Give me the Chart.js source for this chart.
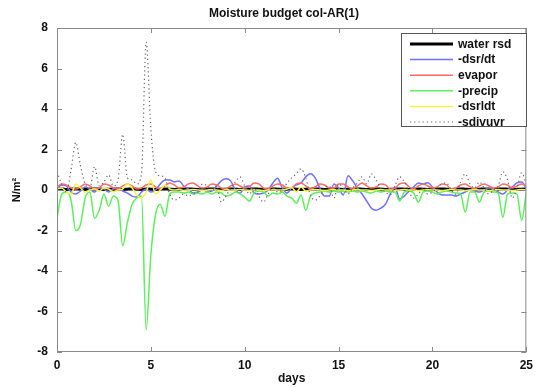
<!DOCTYPE html>
<html>
<head>
<meta charset="utf-8">
<script src="https://cdn.jsdelivr.net/npm/chart.js@4/dist/chart.umd.min.js"></script>
<style>
  body { margin: 0; background: #fff; }
  canvas { display: block; }
</style>
</head>
<body>
<canvas id="chart" width="539" height="388"></canvas>
<script>
// time axis, 6-hourly
const days = [
  0, 0.25, 0.5, 0.75, 1, 1.25, 1.5, 1.75, 2, 2.25, 2.5, 2.75, 3, 3.25, 3.5, 3.75,
  4, 4.25, 4.5, 4.75, 5, 5.25, 5.5, 5.75, 6, 6.25, 6.5, 6.75, 7, 7.25, 7.5, 7.75,
  8, 8.25, 8.5, 8.75, 9, 9.25, 9.5, 9.75, 10, 10.25, 10.5, 10.75, 11, 11.25, 11.5, 11.75,
  12, 12.25, 12.5, 12.75, 13, 13.25, 13.5, 13.75, 14, 14.25, 14.5, 14.75, 15, 15.25, 15.5, 15.75,
  16, 16.25, 16.5, 16.75, 17, 17.25, 17.5, 17.75, 18, 18.25, 18.5, 18.75, 19, 19.25, 19.5, 19.75,
  20, 20.25, 20.5, 20.75, 21, 21.25, 21.5, 21.75, 22, 22.25, 22.5, 22.75, 23, 23.25, 23.5, 23.75,
  24, 24.25, 24.5, 24.75, 25
]

const waterRsd = [
  0.04, 0.05, 0.03, 0.04, 0.05, 0.04, 0.03, 0.04, 0.05, 0.04, 0.03, 0.04, 0.04, 0.05, 0.03, 0.04,
  0.05, 0.04, 0.03, 0.05, 0.04, 0.03, 0.04, 0.05, 0.04, 0.03, 0.04, 0.04, 0.05, 0.04, 0.03, 0.04,
  0.04, 0.05, 0.04, 0.03, 0.04, 0.05, 0.04, 0.03, 0.04, 0.04, 0.05, 0.04, 0.03, 0.04, 0.05, 0.04,
  0.03, 0.04, 0.05, 0.04, 0.03, 0.04, 0.04, 0.05, 0.04, 0.03, 0.04, 0.05, 0.04, 0.03, 0.04, 0.04,
  0.05, 0.04, 0.03, 0.04, 0.05, 0.04, 0.03, 0.04, 0.04, 0.05, 0.04, 0.03, 0.04, 0.05, 0.04, 0.03,
  0.04, 0.04, 0.05, 0.04, 0.03, 0.04, 0.05, 0.04, 0.03, 0.04, 0.04, 0.05, 0.04, 0.03, 0.04, 0.05,
  0.04, 0.03, 0.04, 0.04, 0.05
]

const dsrDt = [
  0.1, 0.25, 0.2, -0.1, -0.2, -0.05, 0.15, 0.05, -0.1, 0.1, 0.05, -0.1, 0.05, 0.1, -0.05, -0.15,
  -0.3, -0.35, -0.1, 0.05, -0.1, 0.0, 0.3, 0.5, 0.5, 0.4, 0.45, 0.2, 0.05, -0.15, -0.1, 0.0,
  -0.05, -0.05, 0.2, 0.45, 0.55, 0.45, 0.0, -0.15, 0.15, 0.2, -0.15, -0.2, -0.15, 0.0, 0.35, 0.58,
  0.1, -0.15, 0.1, 0.25, 0.35, 0.65, 0.8, 0.6, 0.1, -0.3, -0.3, 0.3, 0.1, -0.25, 0.7, 0.45,
  0.1, -0.2, -0.55, -0.9, -1.0, -0.9, -0.7, -0.2, 0.15, -0.45, -0.3, -0.05, 0.15, 0.35, 0.3, 0.36,
  0.15, -0.1, -0.25, -0.25, -0.25, -0.3, -0.2, -0.1, 0.0, -0.05, -0.1, 0.0, 0.1, 0.05, -0.1, -0.2,
  0.0, 0.15, 0.35, 0.4, 0.1
]

const evapor = [
  0.15, 0.3, 0.25, 0.1, 0.05, 0.15, 0.3, 0.2, 0.05, 0.1, 0.3, 0.25, 0.1, 0.05, 0.2, 0.3,
  0.2, 0.05, 0.1, 0.25, 0.3, 0.15, 0.05, 0.2, 0.35, 0.25, 0.1, 0.15, 0.3, 0.35, 0.2, 0.1,
  0.15, 0.3, 0.25, 0.1, 0.05, 0.2, 0.3, 0.2, 0.1, 0.15, 0.35, 0.3, 0.1, 0.05, 0.2, 0.3,
  0.25, 0.1, 0.1, 0.3, 0.35, 0.2, 0.05, 0.15, 0.3, 0.25, 0.1, 0.1, 0.3, 0.3, 0.15, 0.05,
  0.2, 0.35, 0.2, 0.1, 0.15, 0.3, 0.25, 0.05, 0.1, 0.3, 0.35, 0.15, 0.05, 0.2, 0.3, 0.2,
  0.1, 0.15, 0.3, 0.25, 0.05, 0.1, 0.25, 0.3, 0.15, 0.05, 0.2, 0.3, 0.2, 0.1, 0.15, 0.3,
  0.25, 0.1, 0.2, 0.3, 0.2
]

const precip = [
  -1.4, -0.2, -0.1, -0.5, -2.0, -1.7, -0.4, -0.1, -1.4, -1.0, -0.2, -0.8, -0.3, -0.5, -2.75, -1.6,
  -0.7, -0.4, -0.3, -6.9, -3.2, -1.2, -0.7, -1.3, -0.2, -0.1, -0.1, -0.15, -0.1, -0.2, -0.15, -0.2,
  -0.1, -0.2, -0.1, -0.15, -0.3, -0.25, -0.1, -0.2, -0.35, -0.55, -0.15, -0.05, -0.1, -0.3, -0.15, -0.2,
  -0.1, -0.3, -0.4, -0.65, -0.25, -1.0, -0.3, -0.15, -0.1, -0.05, -0.1, -0.05, -0.1, -0.05, -0.1, -0.05,
  -0.1, -0.05, -0.1, -0.15, -0.05, -0.1, -0.05, -0.1, -0.1, -0.55, -0.1, -0.05, -0.15, -0.6, -0.1, -0.05,
  -0.1, -0.2, -0.1, -0.05, -0.1, -0.15, -0.2, -1.1, -0.1, -0.1, -0.6, -0.1, -0.05, -0.1, -0.15, -1.35,
  -0.2, -0.15, -0.2, -1.5, -0.1
]

const dsrldt = [
  0.05, 0.1, -0.1, -0.2, 0.3, 0.1, -0.1, 0.0, 0.05, -0.05, 0.1, 0.05, -0.1, 0.0, 0.05, 0.3,
  0.1, -0.25, -0.4, -0.1, 0.5, -0.2, 0.0, 0.25, 0.05, 0.0, 0.02, -0.02, 0.0, 0.03, 0.0, -0.02,
  0.0, 0.02, 0.0, -0.03, 0.02, 0.0, 0.0, 0.03, 0.0, -0.02, 0.02, 0.0, -0.03, 0.0, 0.02, 0.0,
  0.0, 0.05, 0.12, -0.1, 0.15, -0.05, 0.0, 0.02, 0.0, -0.02, 0.0, 0.02, 0.0, 0.0, -0.02, 0.0,
  0.02, 0.0, 0.0, -0.02, 0.0, 0.02, 0.0, 0.0, -0.02, 0.0, 0.03, 0.0, 0.0, -0.02, 0.0, 0.02,
  0.0, 0.0, -0.02, 0.0, 0.02, 0.0, 0.0, -0.03, 0.0, 0.02, 0.0, 0.0, -0.02, 0.0, 0.02, 0.0,
  0.0, -0.02, 0.0, 0.02, 0.0
]

const sdivuvr = [
  0.9, 0.3, -0.1, 1.0, 2.35, 1.2, 0.3, 0.1, 1.15, 0.2, 0.4, 0.75, 0.2, 0.5, 2.75, 0.6,
  0.5, 0.3, 0.8, 7.3, 3.0, 0.9, 0.7, 0.6, -0.2, -0.5, -0.4, -0.2, -0.3, -0.2, -0.1, 0.3,
  0.2, -0.1, 0.2, -0.6, -0.3, 0.1, 0.4, 0.65, 0.2, -0.2, 0.1, -0.3, -0.6, -0.2, 0.1, -0.1,
  0.0, 0.35, 0.6, 0.8, 1.05, 0.6, -0.25, -0.5, -0.3, 0.1, 0.2, -0.4, 0.3, 0.1, -0.2, 0.1,
  0.35, 0.65, 0.3, 0.8, 0.5, 0.1, -0.1, -0.25, 0.2, 0.65, 0.4, -0.1, -0.4, -0.2, 0.1, -0.2,
  -0.1, 0.1, 0.3, 0.35, 0.0, -0.2, 0.4, 0.8, 0.3, 0.1, 0.4, 0.1, -0.2, 0.0, 0.2, 0.9,
  0.5, -0.4, 0.1, 0.85, 0.3
]

const yTicks = [-8, -6, -4, -2, 0, 2, 4, 6, 8]
const xTicks = [0, 5, 10, 15, 20, 25]

const axisColor = '#8a8a8a'

function pts(values) {
  return values.map((v, i) => ({ x: days[i], y: v }))
}

// MATLAB style box, ticks pointing inwards, title and legend inside the axes
const matlabFrame = {
  id: 'matlabFrame',
  afterDraw(chart) {
    const { ctx, chartArea: a, scales } = chart
    ctx.save()
    ctx.strokeStyle = axisColor
    ctx.lineWidth = 1
    ctx.strokeRect(a.left + 0.5, a.top + 0.5, a.right - a.left - 1, a.bottom - a.top - 1)
    ctx.beginPath()
    yTicks.forEach(t => {
      const y = Math.round(scales.y.getPixelForValue(t)) + 0.5
      ctx.moveTo(a.left, y); ctx.lineTo(a.left + 5, y)
      ctx.moveTo(a.right, y); ctx.lineTo(a.right - 5, y)
    })
    xTicks.forEach(t => {
      const x = Math.round(scales.x.getPixelForValue(t)) + 0.5
      ctx.moveTo(x, a.bottom); ctx.lineTo(x, a.bottom - 5)
      ctx.moveTo(x, a.top); ctx.lineTo(x, a.top + 5)
    })
    ctx.stroke()

    // title
    ctx.fillStyle = '#111'
    ctx.font = 'bold 12px "Liberation Sans", Arial, sans-serif'
    ctx.textAlign = 'center'
    ctx.textBaseline = 'middle'
    ctx.fillText('Moisture budget col-AR(1)', 284, 14)

    // legend
    const bx = 401, by = 33, bw = 125, bh = 93
    ctx.fillStyle = '#fff'
    ctx.fillRect(bx, by, bw, bh)
    ctx.strokeStyle = '#555'
    ctx.strokeRect(bx + 0.5, by + 0.5, bw, bh)
    ctx.font = 'bold 12px "Liberation Sans", Arial, sans-serif'
    ctx.textAlign = 'left'
    chart.data.datasets.forEach((ds, i) => {
      const y = by + 11 + i * 15.6
      ctx.beginPath()
      ctx.strokeStyle = ds.borderColor
      ctx.lineWidth = ds.borderWidth
      ctx.setLineDash(ds.borderDash || [])
      ctx.moveTo(bx + 9, y); ctx.lineTo(bx + 52, y)
      ctx.stroke()
      ctx.setLineDash([])
      ctx.fillStyle = '#111'
      ctx.fillText(ds.label, bx + 57, y + 0.5)
    })
    ctx.restore()
  }
}

new Chart(document.getElementById('chart').getContext('2d'), {
  type: 'line',
  data: {
    datasets: [
      { label: 'water rsd', data: pts(waterRsd), borderColor: '#000', borderWidth: 3, order: 6 },
      { label: '-dsr/dt', data: pts(dsrDt), borderColor: '#7070ff', borderWidth: 1.5, order: 5 },
      { label: 'evapor', data: pts(evapor), borderColor: '#ff6a6a', borderWidth: 1.5, order: 4 },
      { label: '-precip', data: pts(precip), borderColor: '#5cf05c', borderWidth: 1.5, order: 3 },
      { label: '-dsrldt', data: pts(dsrldt), borderColor: '#f5f540', borderWidth: 1.5, order: 2 },
      { label: '-sdivuvr', data: pts(sdivuvr), borderColor: '#666', borderWidth: 1.2, borderDash: [1.2, 3], order: 1 }
    ]
  },
  options: {
    responsive: false,
    animation: false,
    layout: { padding: { top: 28, right: 10, left: 0, bottom: 0 } },
    elements: {
      point: { radius: 0 },
      line: { cubicInterpolationMode: 'monotone', fill: false }
    },
    plugins: {
      legend: { display: false },
      title: { display: false },
      tooltip: { enabled: false }
    },
    scales: {
      x: {
        type: 'linear',
        min: 0,
        max: 25,
        afterBuildTicks: s => { s.ticks = xTicks.map(v => ({ value: v })) },
        afterFit: s => { s.height = 36 },
        grid: { display: false, drawTicks: false },
        border: { display: false },
        ticks: { padding: 6, color: '#111', font: { family: '"Liberation Sans", Arial', size: 12, weight: 'bold' } },
        title: {
          display: true,
          text: 'days',
          color: '#111',
          padding: { top: 0, bottom: 2 },
          font: { family: '"Liberation Sans", Arial', size: 12, weight: 'bold' }
        }
      },
      y: {
        min: -8,
        max: 8,
        afterBuildTicks: s => { s.ticks = yTicks.map(v => ({ value: v })) },
        afterFit: s => { s.width = 57 },
        grid: { display: false, drawTicks: false },
        border: { display: false },
        ticks: { padding: 9, color: '#111', font: { family: '"Liberation Sans", Arial', size: 12, weight: 'bold' } },
        title: {
          display: true,
          text: 'N/m²',
          color: '#111',
          padding: { top: 10, bottom: 0 },
          font: { family: '"Liberation Sans", Arial', size: 11, weight: 'bold' }
        }
      }
    }
  },
  plugins: [matlabFrame]
})
</script>
</body>
</html>
